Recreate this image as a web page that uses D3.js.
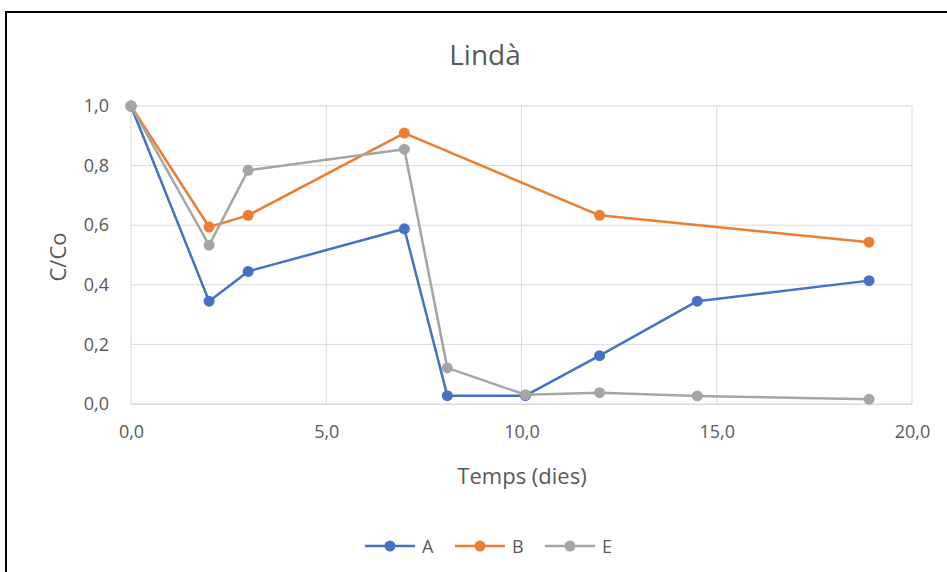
<!DOCTYPE html>
<html>
<head>
<meta charset="utf-8">
<script src="https://cdn.jsdelivr.net/npm/d3@7"></script>
<style>
  html, body { margin: 0; padding: 0; background: #fff; }
  svg { display: block; }
  text { font-family: "Open Sans", Lato, sans-serif; fill: #595959; }
</style>
</head>
<body>
<svg id="chart" width="947" height="572"></svg>
<script>
// Concentration ratio over time for three samples
const timesAE = [0, 2, 3, 7, 8.1, 10.1, 12, 14.5, 18.9];
const timesB  = [0, 2, 3, 7, 12, 18.9];
const valuesA = [1.0, 0.345, 0.445, 0.588, 0.028, 0.028, 0.162, 0.345, 0.414];
const valuesB = [1.0, 0.594, 0.633, 0.909, 0.633, 0.543];
const valuesE = [1.0, 0.533, 0.784, 0.855, 0.121, 0.031, 0.038, 0.027, 0.016];
const seriesNames = ["A", "B", "E"];
const xTicks = [0, 5, 10, 15, 20];
const yTicks = [0, 0.2, 0.4, 0.6, 0.8, 1.0];

const series = [
  { name: seriesNames[0], color: "#4472C4", xs: timesAE, ys: valuesA },
  { name: seriesNames[1], color: "#ED7D31", xs: timesB,  ys: valuesB },
  { name: seriesNames[2], color: "#A5A5A5", xs: timesAE, ys: valuesE }
];

const svg = d3.select("#chart");
const fmt = d => d.toFixed(1).replace(".", ",");
const FONT = "'Open Sans', Lato, sans-serif";

// Outer frame of the chart object
svg.append("rect")
  .attr("x", 6).attr("y", 12)
  .attr("width", 960).attr("height", 600)
  .attr("fill", "none").attr("stroke", "#000").attr("stroke-width", 2);

const x = d3.scaleLinear().domain([0, 20]).range([131, 912]);
const y = d3.scaleLinear().domain([0, 1]).range([404, 106]);

// Gridlines
const grid = svg.append("g");
grid.selectAll("line.h").data(yTicks).join("line")
  .attr("x1", x(0)).attr("x2", x(20))
  .attr("y1", d => y(d)).attr("y2", d => y(d))
  .attr("stroke", "#D9D9D9").attr("stroke-width", 1);
grid.selectAll("line.v").data(xTicks).join("line")
  .attr("y1", y(0)).attr("y2", y(1))
  .attr("x1", d => x(d)).attr("x2", d => x(d))
  .attr("stroke", "#D9D9D9").attr("stroke-width", 1);

// Axes (labels only)
const xAxis = svg.append("g")
  .attr("transform", `translate(0,${y(0)})`)
  .call(d3.axisBottom(x).tickValues(xTicks).tickFormat(fmt).tickSize(0).tickPadding(21));
xAxis.select(".domain").attr("stroke", "#D9D9D9");
xAxis.selectAll("text").attr("font-size", 18).style("fill", "#595959").style("font-family", FONT);

const yAxis = svg.append("g")
  .attr("transform", `translate(${x(0)},0)`)
  .call(d3.axisLeft(y).tickValues(yTicks).tickFormat(fmt).tickSize(0).tickPadding(22));
yAxis.select(".domain").remove();
yAxis.selectAll("text").attr("font-size", 18).style("fill", "#595959").style("font-family", FONT);

// Titles
svg.append("text").attr("x", 485).attr("y", 65)
  .attr("text-anchor", "middle").attr("font-size", 28).text("Lindà");
svg.append("text").attr("x", 522).attr("y", 484)
  .attr("text-anchor", "middle").attr("font-size", 22).text("Temps (dies)");
svg.append("text")
  .attr("transform", `translate(66,257) rotate(-90)`)
  .attr("text-anchor", "middle").attr("font-size", 22).text("C/Co");

// Lines and markers
const line = d3.line().x(d => x(d[0])).y(d => y(d[1]));
series.forEach(s => {
  const pts = s.xs.map((t, i) => [t, s.ys[i]]);
  svg.append("path").datum(pts)
    .attr("d", line).attr("fill", "none")
    .attr("stroke", s.color).attr("stroke-width", 2.5)
    .attr("stroke-linejoin", "round");
  svg.append("g").selectAll("circle").data(pts).join("circle")
    .attr("cx", d => x(d[0])).attr("cy", d => y(d[1])).attr("r", 5.5)
    .attr("fill", s.color);
});

// Legend
const legend = svg.append("g").attr("transform", "translate(365,546)");
series.forEach((s, i) => {
  const g = legend.append("g").attr("transform", `translate(${i * 90},0)`);
  g.append("line").attr("x1", 0).attr("x2", 50).attr("y1", 0).attr("y2", 0)
    .attr("stroke", s.color).attr("stroke-width", 2.5);
  g.append("circle").attr("cx", 25).attr("cy", 0).attr("r", 5.5).attr("fill", s.color);
  g.append("text").attr("x", 57).attr("y", 7).attr("font-size", 18).text(s.name);
});
</script>
</body>
</html>
